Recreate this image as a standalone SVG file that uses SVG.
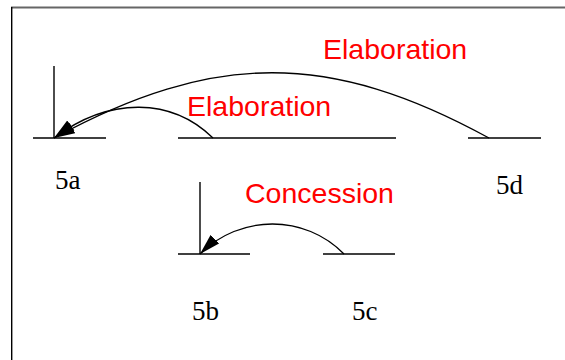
<svg xmlns="http://www.w3.org/2000/svg" width="565" height="360" viewBox="0 0 565 360">
<style>
.seg{stroke:#000;stroke-width:1.4;fill:none}
.arc{stroke:#000;stroke-width:1.3;fill:none}
.rel{font-family:"Liberation Sans",Arial,sans-serif;font-size:28.5px;fill:#ff0000}
.lbl{font-family:"Liberation Serif","Times New Roman",serif;font-size:27px;fill:#000}
</style>
<defs>
<marker id="ah" markerUnits="userSpaceOnUse" markerWidth="22" markerHeight="14" viewBox="0 0 22 14" refX="21" refY="7" orient="auto">
<path d="M0,1 L21,7 L0,13 Z" fill="#000"/>
</marker>
</defs>
<rect x="0" y="0" width="565" height="360" fill="#fff"/>
<g id="frame">
<line x1="11" y1="7.5" x2="565" y2="7.5" stroke="#666" stroke-width="1.8"/>
<line x1="11.7" y1="7" x2="11.7" y2="360" stroke="#000" stroke-width="1.4"/>
</g>
<g id="n5a">
<line class="seg" x1="33" y1="138" x2="106" y2="138"/>
<line class="seg" x1="54" y1="66" x2="54" y2="138"/>
<text class="lbl" x="55" y="189">5a</text>
</g>
<g id="n5bc">
<line class="seg" x1="178" y1="138" x2="396" y2="138"/>
</g>
<g id="n5d">
<line class="seg" x1="468" y1="138" x2="541" y2="138"/>
<text class="lbl" x="496" y="194">5d</text>
</g>
<g id="n5b">
<line class="seg" x1="178" y1="254" x2="250" y2="254"/>
<line class="seg" x1="200" y1="182" x2="200" y2="254"/>
<text class="lbl" x="192" y="320">5b</text>
</g>
<g id="n5c">
<line class="seg" x1="323" y1="254" x2="395" y2="254"/>
<text class="lbl" x="352" y="320">5c</text>
</g>
<g id="connectors">
<path class="arc" d="M489,138 C330,51 214,51 54,138" marker-end="url(#ah)"/>
<path class="arc" d="M213,138 C172,98 110,96 54,138" marker-end="url(#ah)"/>
<path class="arc" d="M344,254 C305,214 240,214 200,254" marker-end="url(#ah)"/>
</g>
<g id="labels">
<text class="rel" x="323" y="59">Elaboration</text>
<text class="rel" x="187" y="116">Elaboration</text>
<text class="rel" x="245" y="203">Concession</text>
</g>
</svg>
